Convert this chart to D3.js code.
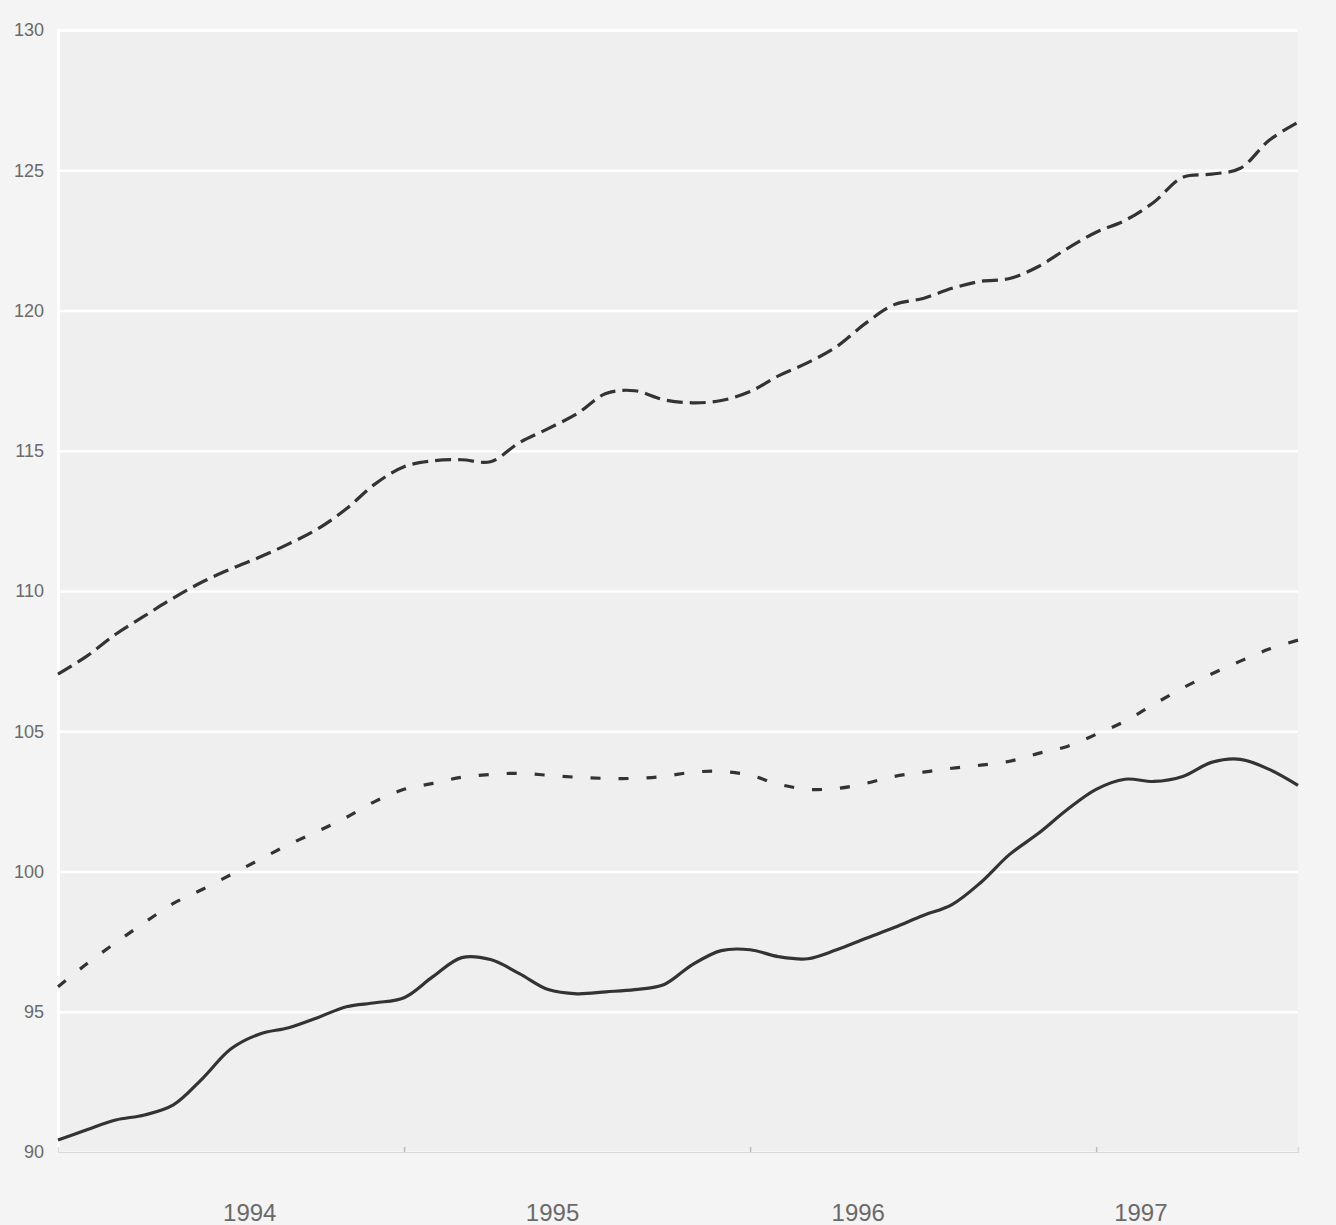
<!DOCTYPE html>
<html>
<head>
<meta charset="utf-8">
<script src="https://cdn.jsdelivr.net/npm/d3@7"></script>
<style>
  html, body { margin: 0; padding: 0; background: #f4f4f4; }
  svg { display: block; }
</style>
</head>
<body>
<div id="chart"></div>
<script>
// Monthly index, 0 = Jan 1994 ... 43 = Aug 1997
const months = d3.range(0, 44);

const seriesTop = [107.04,107.68,108.46,109.11,109.75,110.32,110.79,111.21,111.68,112.21,
  112.93,113.82,114.43,114.64,114.68,114.61,115.29,115.79,116.32,117.04,
  117.14,116.82,116.71,116.79,117.11,117.68,118.14,118.71,119.54,120.21,
  120.43,120.79,121.04,121.14,121.57,122.21,122.79,123.21,123.86,124.75,
  124.86,125.07,126.07,126.71];

const seriesMid = [95.89,96.71,97.46,98.18,98.86,99.36,99.89,100.43,100.96,101.43,
  101.93,102.5,102.93,103.14,103.36,103.46,103.5,103.43,103.36,103.32,
  103.32,103.39,103.54,103.57,103.43,103.11,102.93,102.96,103.14,103.39,
  103.54,103.68,103.79,103.93,104.21,104.46,104.89,105.36,105.96,106.54,
  107.04,107.5,107.93,108.25];

const seriesLow = [90.43,90.79,91.14,91.32,91.68,92.61,93.68,94.21,94.43,94.79,
  95.18,95.32,95.5,96.25,96.93,96.86,96.36,95.79,95.64,95.71,
  95.79,95.96,96.68,97.18,97.21,96.96,96.89,97.21,97.61,98.0,
  98.43,98.82,99.61,100.61,101.36,102.21,102.93,103.29,103.21,103.39,
  103.89,104.0,103.64,103.07];

const yTicks = [90, 95, 100, 105, 110, 115, 120, 125, 130];
const yearTicks = [12, 24, 36];            // January of 1995, 1996, 1997
const yearLabels = ["1994", "1995", "1996", "1997"];
const yearLabelAt = [6.65, 17.15, 27.75, 37.55];

const W = 1336, H = 1225;
const margin = { left: 58, right: 38, top: 30, bottom: 73 };

const svg = d3.select("#chart").append("svg")
  .attr("width", W).attr("height", H);

svg.append("rect").attr("width", W).attr("height", H).attr("fill", "#f4f4f4");

const x = d3.scaleLinear().domain([0, 43]).range([margin.left, W - margin.right]);
const y = d3.scaleLinear().domain([90, 130]).range([H - margin.bottom, margin.top]);

svg.append("rect")
  .attr("x", margin.left).attr("y", margin.top)
  .attr("width", W - margin.right - margin.left)
  .attr("height", H - margin.bottom - margin.top)
  .attr("fill", "#efefef");

// grid + y labels
const yAxis = svg.append("g")
  .attr("transform", `translate(${margin.left},0)`)
  .call(d3.axisLeft(y).tickValues(yTicks).tickSize(-(W - margin.right - margin.left)).tickPadding(14));
yAxis.select(".domain").attr("stroke", "#ffffff").attr("stroke-width", 3);
yAxis.selectAll(".tick line").attr("stroke", "#ffffff").attr("stroke-width", 2.5);
yAxis.selectAll(".tick text")
  .attr("fill", "#6a6a6a")
  .style("font-family", "'Liberation Sans', Arial, sans-serif")
  .style("font-size", "18px");

// x axis
const xAxis = svg.append("g")
  .attr("transform", `translate(0,${H - margin.bottom})`)
  .call(d3.axisBottom(x).tickValues(yearTicks).tickSize(-5).tickFormat(""));
xAxis.select(".domain").attr("stroke", "#d8d8d8").attr("stroke-width", 1.5);
xAxis.selectAll(".tick line").attr("stroke", "#bbbbbb").attr("stroke-width", 1.5);

svg.append("g").selectAll("text")
  .data(yearLabels)
  .join("text")
  .attr("x", (d, i) => x(yearLabelAt[i]))
  .attr("y", H - 4)
  .attr("text-anchor", "middle")
  .attr("fill", "#6a6a6a")
  .style("font-family", "'Liberation Sans', Arial, sans-serif")
  .style("font-size", "24px")
  .text(d => d);

const line = d3.line()
  .x((d, i) => x(months[i]))
  .y(d => y(d))
  .curve(d3.curveCatmullRom.alpha(0.5));

const lines = [
  { data: seriesTop, dash: "16,7" },
  { data: seriesMid, dash: "10,18" },
  { data: seriesLow, dash: null }
];

svg.append("g").selectAll("path")
  .data(lines)
  .join("path")
  .attr("d", d => line(d.data))
  .attr("fill", "none")
  .attr("stroke", "#333333")
  .attr("stroke-width", 3.2)
  .attr("stroke-linecap", "butt")
  .attr("stroke-dasharray", d => d.dash);
</script>
</body>
</html>
